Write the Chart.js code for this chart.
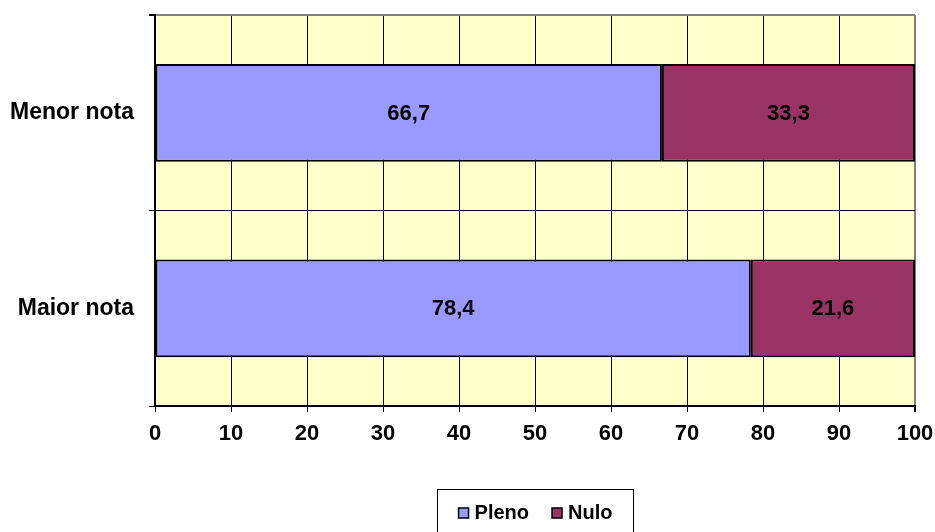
<!DOCTYPE html>
<html>
<head>
<meta charset="utf-8">
<script src="https://cdn.jsdelivr.net/npm/chart.js@4.4.1/dist/chart.umd.min.js"></script>
<style>
  html, body { margin: 0; padding: 0; background: #fff; }
  #wrap { width: 935px; height: 532px; }
</style>
</head>
<body>
<div id="wrap"><canvas id="chart" width="935" height="532"></canvas></div>
<script>
  // ---- data ----
  const categories = ["Menor nota", "Maior nota"];
  const plenoValues = [66.7, 78.4];
  const nuloValues  = [33.3, 21.6];
  const xTicks = [0, 10, 20, 30, 40, 50, 60, 70, 80, 90, 100];

  const FONT = "'Liberation Sans', Arial, sans-serif";

  // yellow plot background
  const plotBg = {
    id: "plotBg",
    beforeDraw(chart) {
      const { ctx, chartArea: a } = chart;
      ctx.save();
      ctx.fillStyle = "#fff";
      ctx.fillRect(0, 0, chart.width, chart.height);
      ctx.fillStyle = "#FFFFCC";
      ctx.fillRect(a.left, a.top, a.right - a.left, a.bottom - a.top);
      ctx.restore();
    }
  };

  // values inside the bars, decimal comma
  const barLabels = {
    id: "barLabels",
    afterDatasetsDraw(chart) {
      const ctx = chart.ctx;
      ctx.save();
      ctx.font = "bold 22px " + FONT;
      ctx.fillStyle = "#000";
      ctx.textAlign = "center";
      ctx.textBaseline = "middle";
      chart.data.datasets.forEach((ds, i) => {
        chart.getDatasetMeta(i).data.forEach((el, j) => {
          const p = el.getCenterPoint();
          ctx.fillText(ds.data[j].toFixed(1).replace(".", ","), p.x, p.y + 1);
        });
      });
      ctx.restore();
    }
  };

  // boxed legend at the bottom (box runs off the bottom edge like the original)
  const boxLegend = {
    id: "boxLegend",
    afterDraw(chart) {
      const ctx = chart.ctx;
      const box = { x: 437.5, y: 489.5, w: 196, h: 60 };
      ctx.save();
      ctx.strokeStyle = "#000";
      ctx.lineWidth = 1;
      ctx.strokeRect(box.x, box.y, box.w, box.h);
      ctx.font = "bold 20px " + FONT;
      ctx.textBaseline = "middle";
      const sq = 10, gap = 6, itemGap = 23;
      const items = chart.data.datasets.map(d => ({ label: d.label, color: d.backgroundColor }));
      let total = 0;
      items.forEach((it, i) => {
        it.w = ctx.measureText(it.label).width;
        total += sq + gap + it.w + (i ? itemGap : 0);
      });
      let x = box.x + (box.w - total) / 2;
      const cy = 513;
      items.forEach((it, i) => {
        if (i) x += itemGap;
        ctx.fillStyle = it.color;
        ctx.fillRect(x, cy - sq / 2, sq, sq);
        ctx.strokeStyle = "#000";
        ctx.lineWidth = 1.5;
        ctx.strokeRect(x, cy - sq / 2, sq, sq);
        ctx.fillStyle = "#000";
        ctx.fillText(it.label, x + sq + gap, cy);
        x += sq + gap + it.w;
      });
      ctx.restore();
    }
  };

  new Chart(document.getElementById("chart").getContext("2d"), {
    type: "bar",
    data: {
      labels: categories,
      datasets: [
        { label: "Pleno", data: plenoValues, backgroundColor: "#9999FF",
          borderColor: "#000", borderWidth: 2, borderSkipped: false },
        { label: "Nulo", data: nuloValues, backgroundColor: "#993366",
          borderColor: "#000", borderWidth: 2, borderSkipped: false }
      ]
    },
    options: {
      indexAxis: "y",
      responsive: false,
      animation: false,
      devicePixelRatio: 1,
      layout: { padding: { top: 15, right: 20, left: 0, bottom: 0 } },
      datasets: { bar: { categoryPercentage: 1, barPercentage: 0.5 } },
      plugins: { legend: { display: false }, tooltip: { enabled: false } },
      scales: {
        x: {
          stacked: true,
          min: 0, max: 100,
          afterBuildTicks: s => { s.ticks = xTicks.map(v => ({ value: v })); },
          afterFit: s => { s.height = 126; s.paddingLeft = 0; s.paddingRight = 0; },
          ticks: { color: "#000", font: { family: FONT, size: 22, weight: "bold" }, padding: 9 },
          grid: {
            color: c => (c.index === xTicks.length - 1 ? "#808080" : "#000"),
            lineWidth: c => (c.index === xTicks.length - 1 ? 2 : 1),
            tickColor: "#000", tickLength: 6
          },
          border: { color: "#000", width: 2 }
        },
        y: {
          stacked: true,
          afterFit: s => { s.width = 155; s.paddingTop = 0; s.paddingBottom = 0; },
          ticks: { color: "#000", font: { family: FONT, size: 23, weight: "bold" }, padding: 15 },
          grid: {
            offset: true,
            color: c => (c.index === 0 ? "#808080" : "#000"),
            lineWidth: c => (c.index === 0 ? 2 : 1),
            tickColor: "#000", tickLength: 6
          },
          border: { color: "#000", width: 2 }
        }
      }
    },
    plugins: [plotBg, barLabels, boxLegend]
  });
</script>
</body>
</html>
